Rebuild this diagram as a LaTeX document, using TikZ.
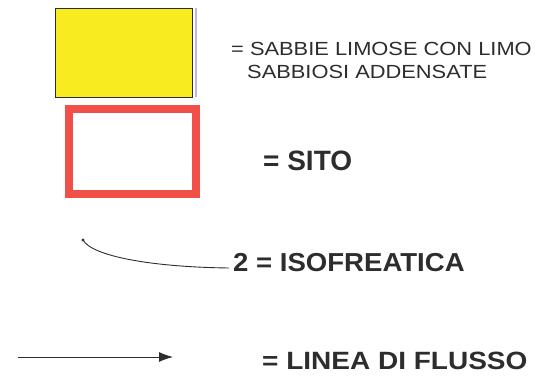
\documentclass[tikz,border=0pt]{standalone}
\usepackage{fontspec}
\setmainfont{Liberation Sans}
\usetikzlibrary{arrows.meta}
\definecolor{sandy}{RGB}{248,236,32}
\definecolor{siteRed}{RGB}{240,80,72}
\definecolor{ink}{RGB}{45,45,45}
\tikzset{
  lbl/.style={anchor=base west, inner sep=0pt, text=ink},
  thinlbl/.style={lbl, font=\fontsize{19}{22}\selectfont},
  boldlbl/.style={lbl, font=\bfseries\fontsize{26}{30}\selectfont},
  legendbox/.style={inner sep=0pt, outer sep=0pt, anchor=north west},
}
\begin{document}
\begin{tikzpicture}[x=1pt,y=-1pt]
\useasboundingbox (0,0) rectangle (547,385);
% yellow box
\node[legendbox, draw=ink, line width=0.8pt, fill=sandy, minimum width=137pt, minimum height=89pt] (yellow) at (55,8) {};
\draw[gray!60!blue!40, line width=1.5pt] ([xshift=4pt]yellow.north east) -- ([xshift=4pt]yellow.south east);
\node[thinlbl] (t1) at (231,56) {\scalebox{1.15}[1]{= SABBIE LIMOSE CON LIMO}};
\node[thinlbl] (t2) at (247,79) {\scalebox{1.15}[1]{SABBIOSI ADDENSATE}};
% red box
\node[legendbox, draw=siteRed, line width=8pt, fill=white, minimum width=127pt, minimum height=85pt] (site) at (69,109) {};
\node[boldlbl, font=\bfseries\fontsize{28}{32}\selectfont] (t3) at (263,171) {= SITO};
% isofreatica
\coordinate (c1) at (83,240);
\coordinate (c2) at (229,268);
\fill[ink] (c1) circle (1.6pt);
\draw[ink, line width=0.9pt] (c1) .. controls (92,256) and (150,267) .. (c2);
\node[boldlbl] (t4) at (233,272) {\scalebox{1.06}[1]{2 = ISOFREATICA}};
% flow line
\coordinate (a1) at (18,357);
\coordinate (a2) at (173,357);
\draw[ink, line width=0.9pt, -{Latex[length=14pt,width=10pt]}] (a1) -- (a2);
\node[boldlbl, font=\bfseries\fontsize{25}{30}\selectfont] (t5) at (262,369) {\scalebox{1.12}[1]{= LINEA DI FLUSSO}};
\end{tikzpicture}
\end{document}
